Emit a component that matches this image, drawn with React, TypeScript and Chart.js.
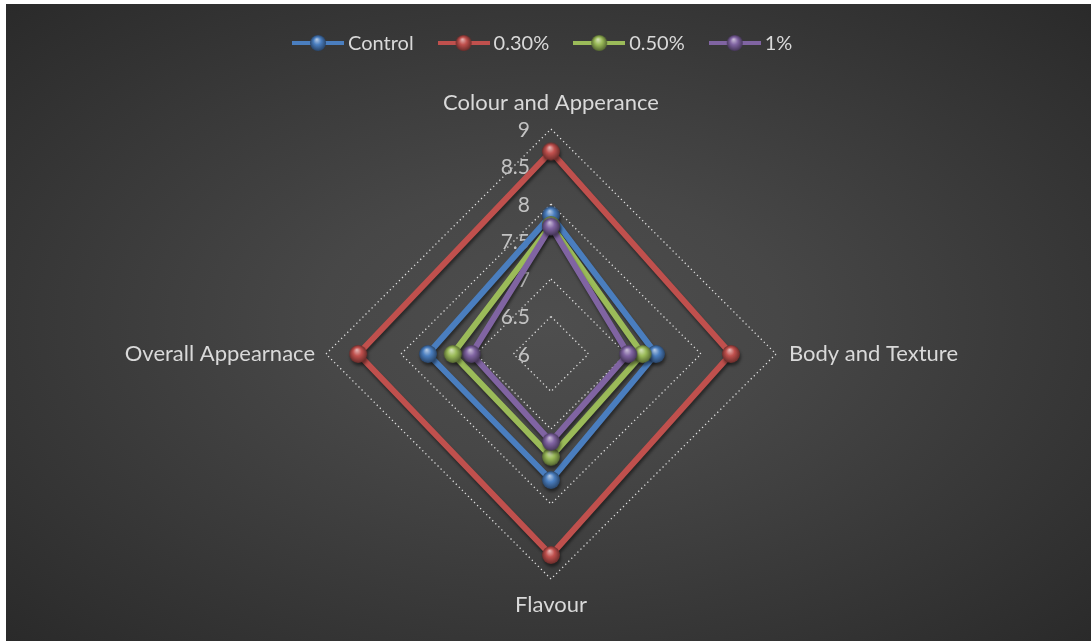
import React, { useEffect, useRef } from "react";
import { Chart, registerables } from "chart.js";

Chart.register(...registerables);

const categories = ["Colour and Apperance", "Body and Texture", "Flavour", "Overall Appearnace"];
const seriesNames = ["Control", "0.30%", "0.50%", "1%"];
const controlValues = [7.85, 7.4, 7.68, 7.64];
const p030Values = [8.7, 8.4, 8.68, 8.57];
const p050Values = [7.72, 7.22, 7.37, 7.31];
const p1Values = [7.7, 7.03, 7.17, 7.06];
const tickValues = [6, 6.5, 7, 7.5, 8, 8.5, 9];
const hiddenGridValues = [7.5, 8.5];

const lineColors = ["#4a7ebf", "#c0504d", "#9bbb59", "#8064a2"];
const FONT = "Lato, 'Open Sans', sans-serif";

function shade(hex: string, amt: number) {
  const n = parseInt(hex.slice(1), 16);
  let r = (n >> 16) & 255, g = (n >> 8) & 255, b = n & 255;
  if (amt >= 0) {
    r = r + (255 - r) * amt; g = g + (255 - g) * amt; b = b + (255 - b) * amt;
  } else {
    r = r * (1 + amt); g = g * (1 + amt); b = b * (1 + amt);
  }
  return `rgb(${Math.round(r)},${Math.round(g)},${Math.round(b)})`;
}

function makeSphere(color: string, radius: number) {
  const size = Math.ceil(radius * 2 + 2);
  const c = document.createElement("canvas");
  c.width = size; c.height = size;
  const ctx = c.getContext("2d")!;
  const cx = size / 2, cy = size / 2;
  const g = ctx.createRadialGradient(cx - radius * 0.15, cy - radius * 0.45, radius * 0.05, cx, cy, radius);
  g.addColorStop(0, shade(color, 0.55));
  g.addColorStop(0.45, color);
  g.addColorStop(1, shade(color, -0.45));
  ctx.fillStyle = g;
  ctx.beginPath();
  ctx.arc(cx, cy, radius, 0, Math.PI * 2);
  ctx.fill();
  return c;
}

function makeLegendSymbol(color: string) {
  const w = 52, h = 20;
  const c = document.createElement("canvas");
  c.width = w; c.height = h;
  const ctx = c.getContext("2d")!;
  ctx.strokeStyle = color;
  ctx.lineWidth = 4;
  ctx.beginPath();
  ctx.moveTo(0, h / 2);
  ctx.lineTo(w, h / 2);
  ctx.stroke();
  const s = makeSphere(color, 8);
  ctx.drawImage(s, w / 2 - s.width / 2, h / 2 - s.height / 2);
  return c;
}

export default function App() {
  const canvasRef = useRef<HTMLCanvasElement | null>(null);

  useEffect(() => {
    if (!canvasRef.current) return;
    const spheres = lineColors.map((c) => makeSphere(c, 9));
    const legendSymbols = lineColors.map((c) => makeLegendSymbol(c));
    const allValues = [controlValues, p030Values, p050Values, p1Values];

    const shadowPlugin = {
      id: "shadowPlugin",
      beforeDatasetsDraw(chart: any) {
        const ctx = chart.ctx;
        const scale = chart.scales.r;
        ctx.save();
        ctx.font = `21px ${FONT}`;
        ctx.fillStyle = "#c2c2c2";
        ctx.textAlign = "right";
        ctx.textBaseline = "middle";
        tickValues.forEach((v) => {
          const p = scale.getPointPosition(0, scale.getDistanceFromCenterForValue(v));
          ctx.fillText(String(v), p.x - 21, p.y + 1);
        });
        ctx.restore();
        ctx.save();
        ctx.shadowColor = "rgba(0,0,0,0.45)";
        ctx.shadowBlur = 3;
        ctx.shadowOffsetX = 1;
        ctx.shadowOffsetY = 3;
      },
      afterDatasetsDraw(chart: any) {
        chart.ctx.restore();
      },
      afterDraw(chart: any) {
        const ctx = chart.ctx;
        const scale = chart.scales.r;
        ctx.save();
        ctx.font = `22px ${FONT}`;
        ctx.fillStyle = "#d9d9d9";
        ctx.textBaseline = "middle";
        const spec = [
          { d: 251, align: "center" },
          { d: 238, align: "left" },
          { d: 251, align: "center" },
          { d: 236, align: "right" },
        ];
        categories.forEach((label, i) => {
          const p = scale.getPointPosition(i, spec[i].d);
          ctx.textAlign = spec[i].align;
          ctx.fillText(label, p.x, p.y);
        });
        ctx.font = `20px ${FONT}`;
        ctx.textAlign = "left";
        let x = 286;
        const y = 39;
        seriesNames.forEach((name, i) => {
          const sym = legendSymbols[i];
          ctx.drawImage(sym, x, y - sym.height / 2);
          x += sym.width + 4;
          ctx.fillStyle = "#d9d9d9";
          ctx.fillText(name, x, y + 1);
          x += ctx.measureText(name).width + 24;
        });
        ctx.restore();
      },
    };

    const chart = new Chart(canvasRef.current, {
      type: "radar",
      data: {
        labels: categories,
        datasets: seriesNames.map((name, i) => ({
          label: name,
          data: allValues[i],
          borderColor: lineColors[i],
          backgroundColor: "transparent",
          borderWidth: 6,
          fill: false,
          tension: 0,
          pointStyle: spheres[i],
          pointRadius: 8,
          pointHoverRadius: 8,
          order: 4 - i,
        })),
      },
      options: {
        animation: false,
        responsive: true,
        maintainAspectRatio: false,
        layout: { padding: { left: 5, right: 0, top: 125, bottom: 62 } },
        plugins: { legend: { display: false }, tooltip: { enabled: false } },
        scales: {
          r: {
            min: 6,
            max: 9,
            ticks: { display: false, stepSize: 0.5 },
            pointLabels: { display: false },
            angleLines: { display: false },
            grid: {
              color: (ctx: any) =>
                hiddenGridValues.includes(ctx.tick?.value) ? "rgba(0,0,0,0)" : "#dcdcdc",
              lineWidth: 1.3,
            },
            border: { dash: [1.3, 3] },
          },
        },
      },
      plugins: [shadowPlugin],
    } as any);
    return () => chart.destroy();
  }, []);

  return (
    <div
      style={{
        position: "absolute",
        left: 6,
        top: 4,
        width: 1085,
        height: 637,
        background:
          "radial-gradient(ellipse farthest-corner at 50% 50%, #4e4e4e 0%, #474747 30%, #2a2a2a 100%)",
      }}
    >
      <canvas ref={canvasRef} />
    </div>
  );
}
